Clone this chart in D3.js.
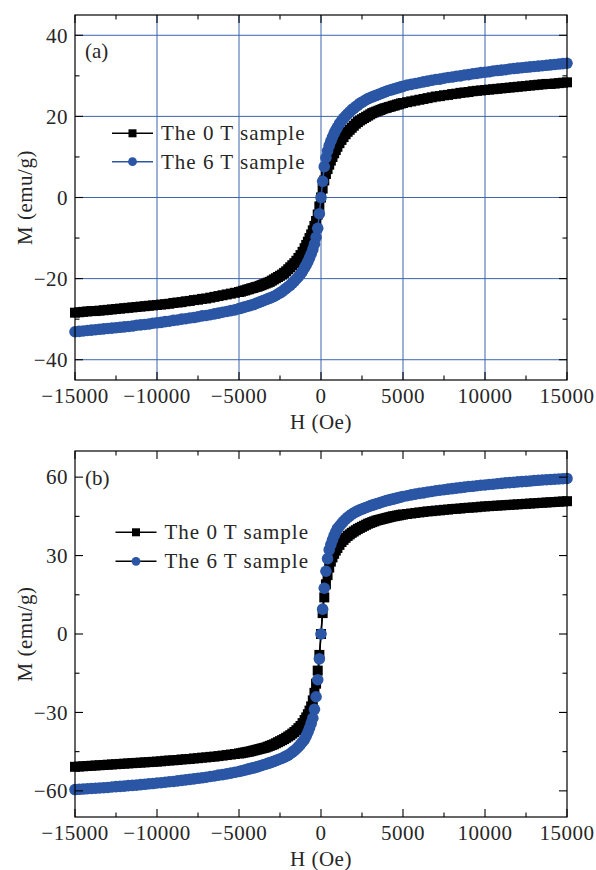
<!DOCTYPE html>
<html>
<head>
<meta charset="utf-8">
<script src="https://cdn.jsdelivr.net/npm/d3@7"></script>
<style>
body { margin: 0; background: #fff; }
text { font-family: "Liberation Serif", serif; fill: #262626; }
</style>
</head>
<body>
<div id="chart"></div>
<script>
// applied field (Oe), same sweep for every curve
const fields = [
    -15000,-14750,-14500,-14250,-14000,-13750,-13500,-13250,-13000,-12750,-12500,-12250,-12000,-11750,-11500,-11250,
    -11000,-10750,-10500,-10250,-10000,-9750,-9500,-9250,-9000,-8750,-8500,-8250,-8000,-7750,-7500,-7250,
    -7000,-6750,-6500,-6250,-6000,-5750,-5500,-5250,
    -5000,-4875,-4750,-4625,-4500,-4375,-4250,-4125,-4000,-3875,-3750,-3625,-3500,-3375,-3250,-3125,
    -3000,-2875,-2750,-2625,-2500,-2375,-2250,-2125,-2000,-1875,-1750,-1625,-1500,-1375,-1250,-1125,-1000,
    -900,-800,-700,-600,-500,-400,-300,-200,-100,0,100,200,300,400,500,600,700,800,900,
    1000,1125,1250,1375,1500,1625,1750,1875,2000,2125,2250,2375,2500,2625,2750,2875,
    3000,3125,3250,3375,3500,3625,3750,3875,4000,4125,4250,4375,4500,4625,4750,4875,5000,
    5250,5500,5750,6000,6250,6500,6750,7000,7250,7500,7750,8000,8250,8500,8750,9000,
    9250,9500,9750,10000,10250,10500,10750,11000,11250,11500,11750,12000,12250,12500,12750,13000,
    13250,13500,13750,14000,14250,14500,14750,15000
];

// panel (a), M in emu/g
const magA0T = [
    -28.4,-28.3,-28.2,-28.1,-28.0,-28.0,-27.9,-27.8,-27.7,-27.6,-27.5,-27.4,-27.3,-27.2,-27.1,-27.0,
    -26.9,-26.8,-26.7,-26.6,-26.5,-26.4,-26.3,-26.2,-26.0,-25.9,-25.8,-25.6,-25.5,-25.3,-25.2,-25.0,
    -24.9,-24.7,-24.5,-24.3,-24.1,-23.9,-23.7,-23.5,
    -23.3,-23.2,-23.0,-22.9,-22.7,-22.6,-22.4,-22.3,-22.1,-22.0,-21.8,-21.6,-21.4,-21.2,-21.0,-20.8,
    -20.5,-20.2,-19.9,-19.6,-19.3,-19.0,-18.6,-18.2,-17.7,-17.2,-16.7,-16.2,-15.6,-14.9,-14.2,-13.4,-12.5,
    -11.7,-10.9,-10.0,-9.1,-8.1,-7.0,-5.8,-4.2,-2.2,0,2.2,4.2,5.8,7.0,8.1,9.1,10.0,10.9,11.7,
    12.5,13.4,14.2,14.9,15.6,16.2,16.7,17.2,17.7,18.2,18.6,19.0,19.3,19.6,19.9,20.2,
    20.5,20.8,21.0,21.2,21.4,21.6,21.8,22.0,22.1,22.3,22.4,22.6,22.7,22.9,23.0,23.2,23.3,
    23.5,23.7,23.9,24.1,24.3,24.5,24.7,24.9,25.0,25.2,25.3,25.5,25.6,25.8,25.9,26.0,
    26.2,26.3,26.4,26.5,26.6,26.7,26.8,26.9,27.0,27.1,27.2,27.3,27.4,27.5,27.6,27.7,
    27.8,27.9,28.0,28.0,28.1,28.2,28.3,28.4
];
const magA6T = [
    -33.1,-33.0,-32.9,-32.8,-32.7,-32.6,-32.5,-32.4,-32.3,-32.2,-32.1,-32.0,-31.9,-31.8,-31.7,-31.5,
    -31.4,-31.3,-31.2,-31.0,-30.9,-30.8,-30.6,-30.5,-30.3,-30.2,-30.0,-29.9,-29.7,-29.6,-29.4,-29.2,
    -29.1,-28.9,-28.7,-28.5,-28.3,-28.1,-27.9,-27.7,
    -27.4,-27.3,-27.1,-27.0,-26.8,-26.7,-26.5,-26.4,-26.2,-26.0,-25.8,-25.6,-25.4,-25.2,-25.0,-24.8,
    -24.6,-24.4,-24.1,-23.8,-23.5,-23.2,-22.8,-22.4,-22.0,-21.6,-21.1,-20.6,-20.1,-19.5,-18.9,-18.2,-17.3,
    -16.6,-15.8,-14.9,-13.9,-12.8,-11.5,-9.8,-7.6,-4.0,0,4.0,7.6,9.8,11.5,12.8,13.9,14.9,15.8,16.6,
    17.3,18.2,18.9,19.5,20.1,20.6,21.1,21.6,22.0,22.4,22.8,23.2,23.5,23.8,24.1,24.4,
    24.6,24.8,25.0,25.2,25.4,25.6,25.8,26.0,26.2,26.4,26.5,26.7,26.8,27.0,27.1,27.3,27.4,
    27.7,27.9,28.1,28.3,28.5,28.7,28.9,29.1,29.2,29.4,29.6,29.7,29.9,30.0,30.2,30.3,
    30.5,30.6,30.8,30.9,31.0,31.2,31.3,31.4,31.5,31.7,31.8,31.9,32.0,32.1,32.2,32.3,
    32.4,32.5,32.6,32.7,32.8,32.9,33.0,33.1
];

// panel (b), M in emu/g
const magB0T = [
    -50.8,-50.7,-50.6,-50.5,-50.4,-50.3,-50.2,-50.1,-50.0,-49.9,-49.8,-49.7,-49.6,-49.5,-49.4,-49.3,
    -49.2,-49.1,-49.0,-48.9,-48.8,-48.7,-48.5,-48.4,-48.3,-48.2,-48.0,-47.9,-47.8,-47.6,-47.5,-47.3,
    -47.2,-47.0,-46.9,-46.7,-46.5,-46.3,-46.1,-45.9,
    -45.7,-45.6,-45.4,-45.3,-45.1,-45.0,-44.8,-44.6,-44.4,-44.2,-44.0,-43.8,-43.6,-43.4,-43.1,-42.8,
    -42.5,-42.2,-41.8,-41.4,-41.0,-40.6,-40.2,-39.7,-39.2,-38.7,-38.1,-37.5,-36.8,-36.0,-35.2,-34.1,-32.9,
    -31.9,-30.7,-29.3,-27.7,-25.4,-22.5,-19.0,-14.0,-8.0,0,8.0,14.0,19.0,22.5,25.4,27.7,29.3,30.7,31.9,
    32.9,34.1,35.2,36.0,36.8,37.5,38.1,38.7,39.2,39.7,40.2,40.6,41.0,41.4,41.8,42.2,
    42.5,42.8,43.1,43.4,43.6,43.8,44.0,44.2,44.4,44.6,44.8,45.0,45.1,45.3,45.4,45.6,45.7,
    45.9,46.1,46.3,46.5,46.7,46.9,47.0,47.2,47.3,47.5,47.6,47.8,47.9,48.0,48.2,48.3,
    48.4,48.5,48.7,48.8,48.9,49.0,49.1,49.2,49.3,49.4,49.5,49.6,49.7,49.8,49.9,50.0,
    50.1,50.2,50.3,50.4,50.5,50.6,50.7,50.8
];
const magB6T = [
    -59.5,-59.4,-59.3,-59.2,-59.1,-59.0,-58.9,-58.8,-58.7,-58.5,-58.4,-58.3,-58.2,-58.0,-57.9,-57.8,
    -57.6,-57.5,-57.3,-57.2,-57.0,-56.9,-56.7,-56.5,-56.4,-56.2,-56.0,-55.8,-55.6,-55.4,-55.2,-55.0,
    -54.8,-54.5,-54.3,-54.0,-53.8,-53.5,-53.2,-52.9,
    -52.6,-52.4,-52.2,-52.0,-51.8,-51.6,-51.4,-51.2,-51.0,-50.8,-50.5,-50.3,-50.0,-49.8,-49.5,-49.3,
    -49.0,-48.7,-48.4,-48.1,-47.8,-47.5,-47.1,-46.7,-46.3,-45.8,-45.2,-44.6,-43.9,-43.1,-42.2,-41.3,-40.3,
    -39.0,-37.6,-36.0,-34.2,-32.2,-28.8,-24.0,-17.5,-9.5,0,9.5,17.5,24.0,28.8,32.2,34.2,36.0,37.6,39.0,
    40.3,41.3,42.2,43.1,43.9,44.6,45.2,45.8,46.3,46.7,47.1,47.5,47.8,48.1,48.4,48.7,
    49.0,49.3,49.5,49.8,50.0,50.3,50.5,50.8,51.0,51.2,51.4,51.6,51.8,52.0,52.2,52.4,52.6,
    52.9,53.2,53.5,53.8,54.0,54.3,54.5,54.8,55.0,55.2,55.4,55.6,55.8,56.0,56.2,56.4,
    56.5,56.7,56.9,57.0,57.2,57.3,57.5,57.6,57.8,57.9,58.0,58.2,58.3,58.4,58.5,58.7,
    58.8,58.9,59.0,59.1,59.2,59.3,59.4,59.5
];

const seriesNames = ['The 0 T sample', 'The 6 T sample'];
const xTicks = [-15000, -10000, -5000, 0, 5000, 10000, 15000];
const xMinor = [-12500, -7500, -2500, 2500, 7500, 12500];
const yTicksA = [-40, -20, 0, 20, 40];
const yMinorA = [-30, -10, 10, 30];
const yTicksB = [-60, -30, 0, 30, 60];
const yMinorB = [-45, -15, 15, 45];

const BLUE = '#2a56a5';
const GRID = '#3d64ad';
const width = 596, height = 870;
const left = 75, right = 567;

const svg = d3.select('#chart').append('svg')
    .attr('width', width)
    .attr('height', height);

const x = d3.scaleLinear().domain([-15000, 15000]).range([left, right]);

function fmt(v) {
    return String(v).replace('-', '\u2212');
}

function drawPanel(p) {
    const y = d3.scaleLinear().domain(p.yDomain).range([p.bottom, p.top]);
    const g = svg.append('g');

    if (p.grid) {
        const grid = g.append('g').attr('stroke', GRID).attr('stroke-width', 1);
        grid.selectAll('line.gx').data(xTicks.slice(1, -1)).enter().append('line')
            .attr('x1', d => x(d)).attr('x2', d => x(d))
            .attr('y1', p.top).attr('y2', p.bottom);
        grid.selectAll('line.gy').data(p.yTicks).enter().append('line')
            .attr('x1', left).attr('x2', right)
            .attr('y1', d => y(d)).attr('y2', d => y(d));
    }

    // curves: 0 T first, 6 T on top
    const pts0 = fields.map((h, i) => [h, p.mag0[i]]);
    const pts6 = fields.map((h, i) => [h, p.mag6[i]]);
    const line = d3.line().x(d => x(d[0])).y(d => y(d[1]));

    g.append('path').datum(pts0)
        .attr('fill', 'none').attr('stroke', '#000').attr('stroke-width', 1.5)
        .attr('d', line);
    g.append('g').selectAll('rect').data(pts0).enter().append('rect')
        .attr('x', d => x(d[0]) - 5).attr('y', d => y(d[1]) - 5)
        .attr('width', 10).attr('height', 10)
        .attr('fill', '#000');

    g.append('path').datum(pts6)
        .attr('fill', 'none').attr('stroke', p.line6).attr('stroke-width', 1.5)
        .attr('d', line);
    g.append('g').selectAll('circle').data(pts6).enter().append('circle')
        .attr('cx', d => x(d[0])).attr('cy', d => y(d[1]))
        .attr('r', 5.8)
        .attr('fill', BLUE);

    // frame
    g.append('rect')
        .attr('x', left).attr('y', p.top)
        .attr('width', right - left).attr('height', p.bottom - p.top)
        .attr('fill', 'none').attr('stroke', '#000').attr('stroke-width', 1.2);

    // inward ticks on all four sides
    const ticks = g.append('g').attr('stroke', '#000').attr('stroke-width', 1.1);
    const tx = xTicks.map(v => [v, 8]).concat(xMinor.map(v => [v, 4.5]));
    tx.forEach(t => {
        ticks.append('line').attr('x1', x(t[0])).attr('x2', x(t[0]))
            .attr('y1', p.bottom).attr('y2', p.bottom - t[1]);
        ticks.append('line').attr('x1', x(t[0])).attr('x2', x(t[0]))
            .attr('y1', p.top).attr('y2', p.top + t[1]);
    });
    const ty = p.yTicks.map(v => [v, 8]).concat(p.yMinor.map(v => [v, 4.5]));
    ty.forEach(t => {
        ticks.append('line').attr('y1', y(t[0])).attr('y2', y(t[0]))
            .attr('x1', left).attr('x2', left + t[1]);
        ticks.append('line').attr('y1', y(t[0])).attr('y2', y(t[0]))
            .attr('x1', right).attr('x2', right - t[1]);
    });

    // tick labels
    g.append('g').selectAll('text').data(xTicks).enter().append('text')
        .attr('x', d => x(d)).attr('y', p.bottom + 23)
        .attr('text-anchor', 'middle')
        .style('font-size', '21px').style('letter-spacing', '0.5px')
        .text(fmt);
    g.append('g').selectAll('text').data(p.yTicks).enter().append('text')
        .attr('x', left - 7).attr('y', d => y(d)).attr('dy', '0.35em')
        .attr('text-anchor', 'end')
        .style('font-size', '21px').style('letter-spacing', '0.5px')
        .text(fmt);

    // axis titles
    g.append('text')
        .attr('x', x(0)).attr('y', p.bottom + 49)
        .attr('text-anchor', 'middle')
        .style('font-size', '21px').style('letter-spacing', '0.5px')
        .text('H (Oe)');
    g.append('text')
        .attr('transform', `translate(32,${(p.top + p.bottom) / 2}) rotate(-90)`)
        .attr('text-anchor', 'middle')
        .style('font-size', '21px').style('letter-spacing', '0.5px')
        .text('M (emu/g)');

    g.append('text')
        .attr('x', left + 10).attr('y', p.labelY)
        .style('font-size', '21px')
        .text(p.label);

    // legend
    const lg = g.append('g').attr('transform', `translate(${p.legendX},${p.legendY})`);
    [0, 1].forEach(i => {
        const yy = i * p.legendGap;
        const col = i === 0 ? '#000' : p.line6;
        lg.append('line').attr('x1', 0).attr('x2', 41)
            .attr('y1', yy).attr('y2', yy)
            .attr('stroke', col).attr('stroke-width', 1.5);
        if (i === 0) {
            lg.append('rect').attr('x', 16.5).attr('y', yy - 4).attr('width', 8).attr('height', 8)
                .attr('fill', '#000');
        } else {
            lg.append('circle').attr('cx', 20.5).attr('cy', yy).attr('r', 4.4)
                .attr('fill', BLUE);
        }
        lg.append('text').attr('x', 49).attr('y', yy).attr('dy', '0.33em')
            .style('font-size', '21px').style('letter-spacing', '1px')
            .text(seriesNames[i]);
    });
}

drawPanel({
    top: 15, bottom: 380, yDomain: [-45, 45],
    yTicks: yTicksA, yMinor: yMinorA, grid: true,
    mag0: magA0T, mag6: magA6T, line6: BLUE,
    label: '(a)', labelY: 58,
    legendX: 112, legendY: 133.3, legendGap: 28.4
});

drawPanel({
    top: 451, bottom: 817, yDomain: [-70, 70],
    yTicks: yTicksB, yMinor: yMinorB, grid: false,
    mag0: magB0T, mag6: magB6T, line6: '#000',
    label: '(b)', labelY: 485,
    legendX: 115.5, legendY: 532.3, legendGap: 29
});
</script>
</body>
</html>
